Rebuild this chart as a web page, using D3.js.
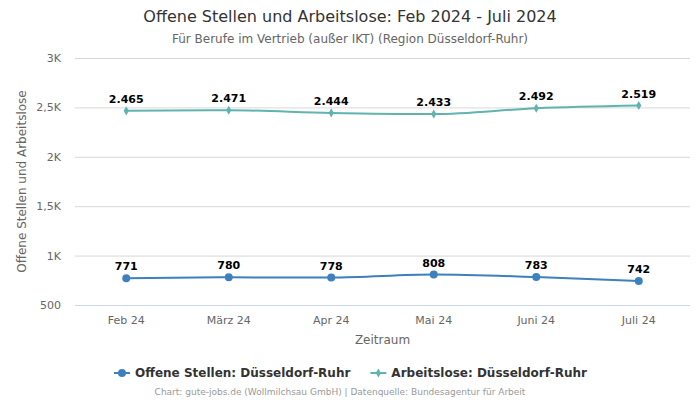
<!DOCTYPE html>
<html>
<head>
<meta charset="utf-8">
<script src="https://cdn.jsdelivr.net/npm/d3@7"></script>
<style>
  body { margin: 0; background: #fff; }
  svg { font-family: "DejaVu Sans", sans-serif; }
</style>
</head>
<body>
<svg id="chart" width="700" height="400"></svg>
<script>
// chart data
const months = ["Feb 24", "März 24", "Apr 24", "Mai 24", "Juni 24", "Juli 24"];
const offeneStellen = [771, 780, 778, 808, 783, 742];
const arbeitslose = [2465, 2471, 2444, 2433, 2492, 2519];
const yTicks = [500, 1000, 1500, 2000, 2500, 3000];

const W = 700, H = 400;
const margin = { top: 58, right: 10, bottom: 95, left: 75 };
const svg = d3.select("#chart");

const x = d3.scaleBand().domain(months).range([margin.left, W - margin.right]);
const y = d3.scaleLinear().domain([500, 3000]).range([H - margin.bottom, margin.top]);

const fmtTick = v => v >= 1000 ? (v / 1000).toString().replace(".", ",") + "K" : String(v);
const fmtLabel = v => v >= 1000 ? d3.format(",")(v).replace(/,/g, ".") : String(v);

// title
svg.append("text").attr("x", W / 2).attr("y", 22).attr("text-anchor", "middle")
  .style("font-size", "16px").style("fill", "#333")
  .text("Offene Stellen und Arbeitslose: Feb 2024 - Juli 2024");
svg.append("text").attr("x", W / 2).attr("y", 43).attr("text-anchor", "middle")
  .style("font-size", "12px").style("fill", "#666")
  .text("Für Berufe im Vertrieb (außer IKT) (Region Düsseldorf-Ruhr)");

// grid
const yAxis = svg.append("g")
  .attr("transform", `translate(${margin.left},0)`)
  .call(d3.axisLeft(y).tickValues(yTicks).tickFormat(fmtTick)
    .tickSize(-(W - margin.left - margin.right)).tickPadding(14));
yAxis.select(".domain").remove();
yAxis.selectAll(".tick line").attr("stroke", d => d === 500 ? "#ccd6eb" : "#d8d8d8");
yAxis.selectAll(".tick text").style("font-size", "11px").style("fill", "#666")
  .style("font-family", "DejaVu Sans, sans-serif");

// x axis
const xAxis = svg.append("g")
  .attr("transform", `translate(0,${H - margin.bottom})`)
  .call(d3.axisBottom(x).tickSize(0).tickPadding(11));
xAxis.select(".domain").remove();
xAxis.selectAll(".tick text").style("font-size", "11px").style("fill", "#666")
  .style("font-family", "DejaVu Sans, sans-serif");

svg.append("text").attr("x", margin.left + (W - margin.left - margin.right) / 2).attr("y", 344)
  .attr("text-anchor", "middle").style("font-size", "12px").style("fill", "#666")
  .text("Zeitraum");
svg.append("text")
  .attr("transform", `translate(26,${(margin.top + H - margin.bottom) / 2}) rotate(-90)`)
  .attr("text-anchor", "middle").style("font-size", "12px").style("fill", "#666")
  .text("Offene Stellen und Arbeitslose");

const series = [
  { name: "Offene Stellen: Düsseldorf-Ruhr", values: offeneStellen, color: "#3d80bd", marker: d3.symbolCircle, size: 50 },
  { name: "Arbeitslose: Düsseldorf-Ruhr", values: arbeitslose, color: "#5fb4ae", marker: d3.symbolDiamond, size: 24 }
];

const cx = (d, i) => x(months[i]) + x.bandwidth() / 2;
const line = d3.line().x(cx).y(d => y(d)).curve(d3.curveMonotoneX);

series.forEach(s => {
  const g = svg.append("g");
  g.append("path").datum(s.values).attr("d", line)
    .attr("fill", "none").attr("stroke", s.color).attr("stroke-width", 2);
  g.selectAll("path.m").data(s.values).join("path").attr("class", "m")
    .attr("d", d3.symbol().type(s.marker).size(s.size))
    .attr("transform", (d, i) => `translate(${cx(d, i)},${y(d)})`)
    .attr("fill", s.color);
  g.selectAll("text").data(s.values).join("text")
    .attr("x", cx).attr("y", d => y(d) - 8)
    .attr("text-anchor", "middle").style("font-size", "11px").style("font-weight", "bold")
    .style("fill", "#000").text(fmtLabel);
});

// legend
const legend = svg.append("g");
let lx = 114;
series.forEach(s => {
  const item = legend.append("g").attr("transform", `translate(${lx},373)`);
  item.append("line").attr("x1", 0).attr("x2", 16).attr("stroke", s.color).attr("stroke-width", 2);
  item.append("path").attr("d", d3.symbol().type(s.marker).size(s.size))
    .attr("transform", "translate(8,0)").attr("fill", s.color);
  const t = item.append("text").attr("x", 21).attr("y", 4)
    .style("font-size", "12px").style("font-weight", "bold").style("fill", "#333").text(s.name);
  lx += 21 + t.node().getComputedTextLength() + 20;
});

svg.append("text").attr("x", W / 2 - 10).attr("y", 395).attr("text-anchor", "middle")
  .style("font-size", "9px").style("fill", "#999")
  .text("Chart: gute-jobs.de (Wollmilchsau GmbH) | Datenquelle: Bundesagentur für Arbeit");
</script>
</body>
</html>
